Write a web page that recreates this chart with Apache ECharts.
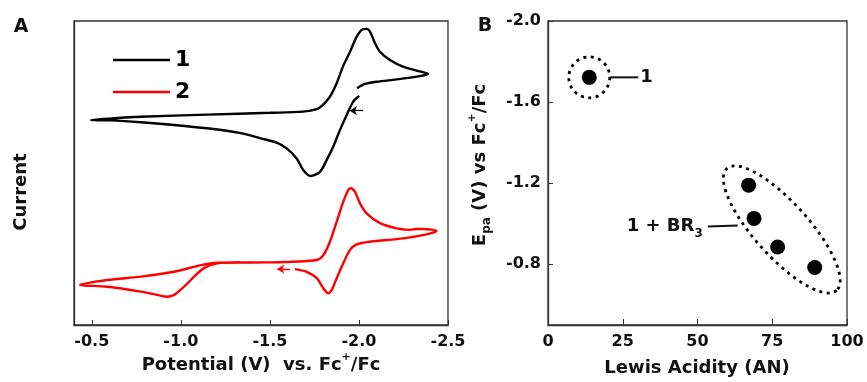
<!DOCTYPE html>
<html><head><meta charset="utf-8">
<script src="https://cdn.jsdelivr.net/npm/echarts@6/dist/echarts.min.js"></script>
<style>html,body{margin:0;padding:0;background:#fff}#c{width:867px;height:382px}</style>
</head><body><div id="c"></div>
<script>
// ---- Panel A: cyclic voltammograms (potential in V vs Fc+/Fc, current in arbitrary units)
const seriesNames = ['1', '2'];
const cv1Potential = [-2.002,-1.968,-1.931,-1.893,-1.856,-1.819,-1.781,-1.729,-1.687,-1.650,-1.594,-1.538,-1.448,-1.336,-1.147,-0.962,-0.775,-0.603,-0.494,-0.603,-0.775,-1.147,-1.500,-1.686,-1.763,-1.798,-1.837,-1.875,-1.910,-1.950,-1.987,-2.022,-2.043,-2.062,-2.090,-2.118,-2.174,-2.247,-2.324,-2.389,-2.324,-2.212,-2.099,-2.034,-1.990];
const cv1Current   = [75.3,73.5,69.1,64.1,58.7,54.3,50.4,49.0,51.0,54.8,58.1,60.0,61.4,63.1,64.7,65.8,66.7,67.3,67.4,67.9,68.5,69.2,69.8,70.2,71.0,72.4,75.1,79.5,85.0,89.9,94.8,97.3,97.4,96.5,92.7,89.9,87.2,85.0,83.7,82.6,81.7,80.8,80.0,79.3,77.9];
const cv2Potential = [-1.641,-1.707,-1.763,-1.800,-1.828,-1.847,-1.875,-1.912,-1.950,-1.987,-2.062,-2.249,-2.380,-2.436,-2.361,-2.324,-2.286,-2.212,-2.118,-2.043,-2.006,-1.978,-1.953,-1.940,-1.912,-1.875,-1.837,-1.800,-1.763,-1.500,-1.205,-1.112,-0.962,-0.775,-0.588,-0.434,-0.588,-0.775,-0.868,-0.924,-0.962,-1.018,-1.074,-1.130,-1.205,-1.332];
const cv2Current   = [18.4,17.5,15.4,12.1,10.4,11.5,15.4,20.3,24.7,26.5,27.4,28.5,29.8,30.9,31.6,31.6,31.3,31.8,33.5,36.7,40.0,43.8,45.0,44.4,40.6,34.0,27.4,23.0,21.4,20.6,20.5,19.7,17.5,15.9,14.8,13.2,12.6,11.0,9.9,9.3,9.9,12.6,15.9,18.7,20.3,20.6];
// scan-direction arrows [tail, head]
const arrow1Potential = [-2.024, -1.949];
const arrow1Current   = [70.5, 70.5];
const arrow2Potential = [-1.614, -1.541];
const arrow2Current   = [18.4, 18.4];
const potentialTicks = [-0.5, -1.0, -1.5, -2.0, -2.5];

// ---- Panel B: Epa vs Lewis acidity
const lewisAcidity = [13.8, 67.1, 68.9, 76.8, 89.2];
const epa          = [-1.722, -1.190, -1.026, -0.885, -0.784];
const acidityTicks = [0, 25, 50, 75, 100];
const epaTicks     = [-2.0, -1.6, -1.2, -0.8];

const FONT = 'DejaVu Sans';
const AX = '#333';
const zip = (a, b) => a.map((v, i) => [v, b[i]]);

const chart = echarts.init(document.getElementById('c'));

const labelStyle = {fontFamily: FONT, fontWeight: 'bold', fontSize: 16, color: '#111'};

const option = {
  animation: false,
  grid: [
    {left: 74, top: 21, width: 374, height: 304, show: true, borderColor: AX, borderWidth: 1.3},
    {left: 548, top: 21, width: 299, height: 304, show: true, borderColor: AX, borderWidth: 1.3}
  ],
  legend: {
    data: seriesNames, orient: 'vertical', left: 108, top: 43, icon: 'rect',
    itemWidth: 57, itemHeight: 2.5, itemGap: 8, selectedMode: false,
    textStyle: {fontFamily: FONT, fontWeight: 'bold', fontSize: 22, lineHeight: 24, color: '#000'}
  },
  xAxis: [
    {gridIndex: 0, type: 'value', min: Math.min(...potentialTicks), max: -0.4, interval: 0.5, inverse: true,
     axisLine: {show: true, lineStyle: {color: AX, width: 1.3}},
     axisTick: {show: true, inside: true, length: 5, lineStyle: {color: AX}},
     axisLabel: Object.assign({margin: 9, showMaxLabel: false, formatter: v => v.toFixed(1)}, labelStyle),
     splitLine: {show: false}},
    {gridIndex: 1, type: 'value', min: acidityTicks[0], max: acidityTicks[acidityTicks.length - 1], interval: 25,
     axisLine: {show: true, lineStyle: {color: AX, width: 1.3}},
     axisTick: {show: true, inside: true, length: 6, lineStyle: {color: AX}},
     axisLabel: Object.assign({margin: 9}, labelStyle),
     splitLine: {show: false}}
  ],
  yAxis: [
    {gridIndex: 0, type: 'value', min: 0, max: 100,
     axisLine: {show: true, lineStyle: {color: AX, width: 1.3}},
     axisTick: {show: false}, axisLabel: {show: false}, splitLine: {show: false}},
    {gridIndex: 1, type: 'value', min: epaTicks[0], max: -0.5, interval: 0.4, inverse: true,
     axisLine: {show: true, lineStyle: {color: AX, width: 1.3}},
     axisTick: {show: true, inside: true, length: 5, lineStyle: {color: AX}},
     axisLabel: Object.assign({margin: 7, showMaxLabel: false, formatter: v => v.toFixed(1)}, labelStyle),
     splitLine: {show: false}}
  ],
  series: [
    {name: seriesNames[0], type: 'line', xAxisIndex: 0, yAxisIndex: 0, data: zip(cv1Potential, cv1Current),
     showSymbol: false, smooth: 0.3, lineStyle: {color: '#000', width: 2.4}, itemStyle: {color: '#000'},
     markLine: {silent: true, symbol: ['none', 'arrow'], symbolSize: 7, label: {show: false},
       lineStyle: {color: '#000', width: 1.2, type: 'solid'},
       data: [[{coord: [arrow1Potential[0], arrow1Current[0]]}, {coord: [arrow1Potential[1], arrow1Current[1]]}]]}},
    {name: seriesNames[1], type: 'line', xAxisIndex: 0, yAxisIndex: 0, data: zip(cv2Potential, cv2Current),
     showSymbol: false, smooth: 0.3, lineStyle: {color: '#ff0000', width: 2.4}, itemStyle: {color: '#ff0000'},
     markLine: {silent: true, symbol: ['none', 'arrow'], symbolSize: 7, label: {show: false},
       lineStyle: {color: '#ff0000', width: 1.4, type: 'solid'},
       data: [[{coord: [arrow2Potential[0], arrow2Current[0]]}, {coord: [arrow2Potential[1], arrow2Current[1]]}]]}},
    {name: 'Epa', type: 'scatter', xAxisIndex: 1, yAxisIndex: 1, data: zip(lewisAcidity, epa),
     symbolSize: 15, itemStyle: {color: '#000', opacity: 1}}
  ]
};
chart.setOption(option);

// ---- annotations placed from the data through the axes
const p1 = chart.convertToPixel({gridIndex: 1}, [lewisAcidity[0], epa[0]]);
const grp = lewisAcidity.slice(1).map((x, i) => chart.convertToPixel({gridIndex: 1}, [x, epa[i + 1]]));
const gcx = grp.reduce((s, p) => s + p[0], 0) / grp.length + 8;
const gcy = grp.reduce((s, p) => s + p[1], 0) / grp.length;
const ea = 82, eb = 27, th = 48 * Math.PI / 180;
const ell = [];
for (let k = 0; k < 120; k++) {
  const t = k / 120 * 2 * Math.PI;
  ell.push([gcx + ea * Math.cos(t) * Math.cos(th) - eb * Math.sin(t) * Math.sin(th),
            gcy + ea * Math.cos(t) * Math.sin(th) + eb * Math.sin(t) * Math.cos(th)]);
}
const dotStyle = {fill: 'none', stroke: '#000', lineWidth: 2.8, lineDash: [3, 4.5]};
const txt = (x, y, text, size, extra, rot) => ({type: 'text', x: x, y: y, rotation: rot || 0,
  style: Object.assign({text: text, fill: '#111', fontFamily: FONT, fontWeight: 'bold', fontSize: size,
    align: 'center', verticalAlign: 'middle'}, extra || {})});
const rich = {
  m:   {fontFamily: FONT, fontWeight: 'bold', fontSize: 18, lineHeight: 26, fill: '#111'},
  sup: {fontFamily: FONT, fontWeight: 'bold', fontSize: 11, lineHeight: 12, verticalAlign: 'top', fill: '#111'},
  sub: {fontFamily: FONT, fontWeight: 'bold', fontSize: 12, lineHeight: 12, verticalAlign: 'bottom', fill: '#111'}
};
const richTxt = (x, y, text, rot, align) => ({type: 'text', x: x, y: y, rotation: rot || 0,
  style: {text: text, rich: rich, align: align || 'center', verticalAlign: 'middle'}});

chart.setOption({graphic: [
  txt(21, 27, 'A', 19),
  txt(485, 26, 'B', 19),
  txt(21, 192, 'Current', 18, {}, Math.PI / 2),
  richTxt(261, 365, '{m|Potential (V)  vs. Fc}{sup|+}{m|/Fc}'),
  richTxt(697, 368, '{m|Lewis Acidity (AN)}'),
  richTxt(480, 165, '{m|E}{sub|pa}{m| (V) vs Fc}{sup|+}{m|/Fc}', Math.PI / 2),
  {type: 'circle', shape: {cx: p1[0], cy: p1[1], r: 20.5}, style: dotStyle},
  {type: 'polygon', shape: {points: ell}, style: dotStyle},
  {type: 'line', shape: {x1: p1[0] + 21, y1: p1[1], x2: p1[0] + 49, y2: p1[1]}, style: {stroke: '#111', lineWidth: 2}},
  txt(p1[0] + 51, p1[1], '1', 18, {align: 'left'}),
  {type: 'line', shape: {x1: gcx - 74, y1: gcy - 3, x2: gcx - 44, y2: gcy - 4}, style: {stroke: '#111', lineWidth: 2}},
  richTxt(gcx - 79, gcy - 3, '{m|1 + BR}{sub|3}', 0, 'right')
]});
</script></body></html>
